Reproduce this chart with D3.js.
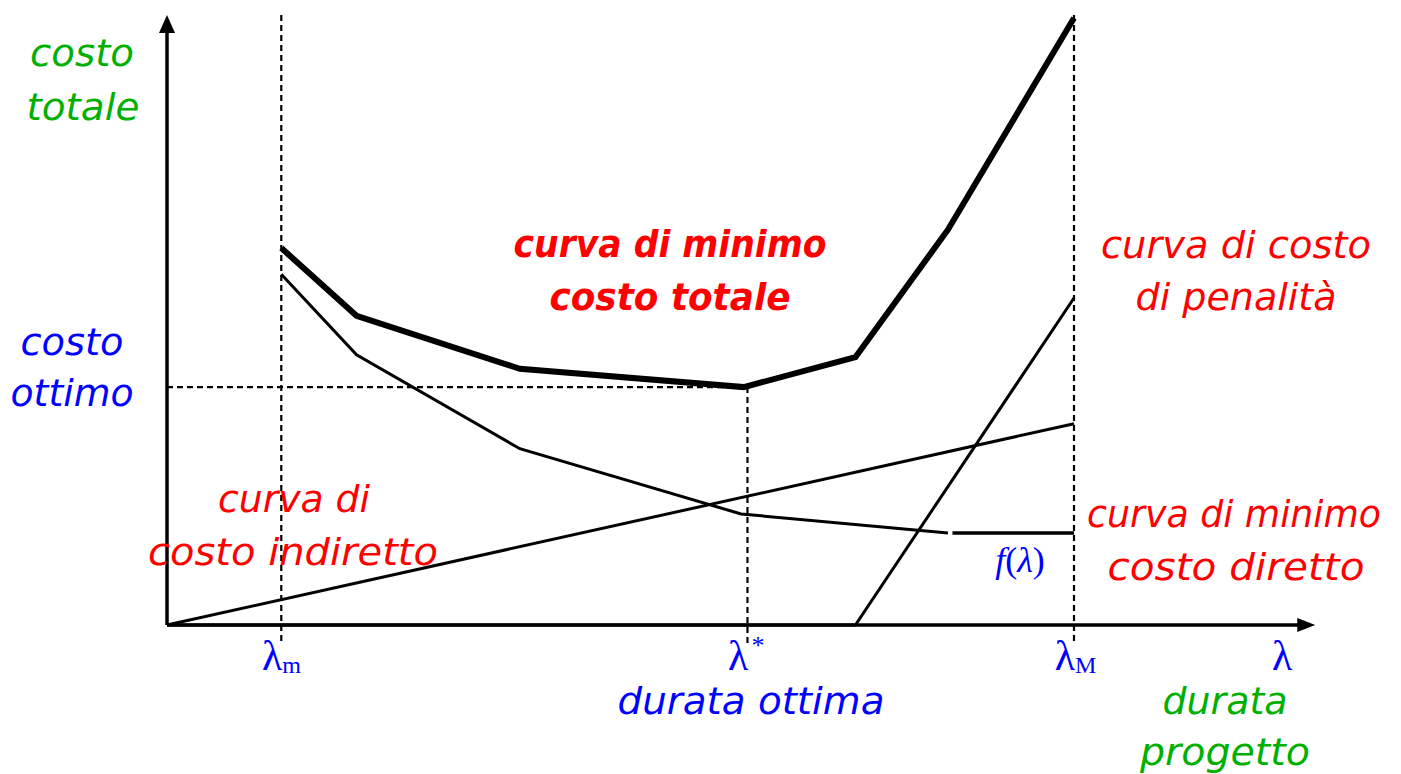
<!DOCTYPE html>
<html lang="it">
<head>
<meta charset="UTF-8">
<title>Costo totale</title>
<style>
    body { margin: 0; background: #fff; }
    svg { display: block; }
    .lbl { font-family: "DejaVu Sans", sans-serif; font-style: italic; }
    .sym { font-family: "Liberation Serif", "DejaVu Serif", serif; fill: #0000ff; }
</style>
</head>
<body>
<script src="https://d3js.org/d3.v7.min.js"></script>
<script>
    // durata (lambda) in unita arbitrarie, costo in unita arbitrarie
    const lambdaMin = 12.6, lambdaOpt = 64, lambdaMax = 100, xEnd = 126.6, yEnd = 100;

    const totalX = [12.6, 20.9, 38.9, 63.6, 75.9, 86.1, 100];
    const totalY = [61.8, 50.7, 42.0, 39.0, 43.9, 64.8, 99.5];

    const directX = [12.6, 20.9, 38.9, 63.3, 86.1];
    const directY = [57.5, 44.3, 28.9, 18.2, 15.1];
    const flatX = [86.6, 100];          // f(lambda)
    const flatY = [15.1, 15.1];

    const indirectX = [0, 100];
    const indirectY = [0, 33.0];

    const penaltyX = [0, 75.9, 100];
    const penaltyY = [0, 0, 53.6];

    const optCost = 39.0;

    const width = 1401, height = 774;

    const x = d3.scaleLinear().domain([0, 100]).range([167, 1074]);
    const y = d3.scaleLinear().domain([0, 100]).range([625, 15]);

    const svg = d3.select("body").append("svg")
        .attr("width", width)
        .attr("height", height);

    const line = d3.line().x(d => x(d[0])).y(d => y(d[1]));
    const zip = (a, b) => a.map((v, i) => [v, b[i]]);

    // dashed guides
    const dash = svg.append("g")
        .attr("stroke", "#000")
        .attr("stroke-width", 2.2)
        .attr("stroke-dasharray", "6,4")
        .attr("fill", "none");
    [lambdaMin, lambdaMax].forEach(v => {
        dash.append("line")
            .attr("x1", x(v)).attr("x2", x(v))
            .attr("y1", y(yEnd) ).attr("y2", y(0) + 18);
    });
    dash.append("line")
        .attr("x1", x(lambdaOpt)).attr("x2", x(lambdaOpt))
        .attr("y1", y(optCost)).attr("y2", y(0) + 18);
    dash.append("line")
        .attr("x1", x(0)).attr("x2", x(lambdaOpt))
        .attr("y1", y(optCost)).attr("y2", y(optCost));

    // curves
    const curves = svg.append("g").attr("fill", "none").attr("stroke", "#000")
        .attr("stroke-linejoin", "miter");
    curves.append("path").attr("d", line(zip(indirectX, indirectY))).attr("stroke-width", 3);
    curves.append("path").attr("d", line(zip(penaltyX, penaltyY))).attr("stroke-width", 3);
    curves.append("path").attr("d", line(zip(directX, directY))).attr("stroke-width", 3);
    curves.append("path").attr("d", line(zip(flatX, flatY))).attr("stroke-width", 3.5);
    curves.append("path").attr("d", line(zip(totalX, totalY))).attr("stroke-width", 6);

    // axes with arrows
    const axes = svg.append("g").attr("stroke", "#000").attr("stroke-width", 3.5);
    axes.append("line")
        .attr("x1", x(0)).attr("y1", y(0))
        .attr("x2", x(0)).attr("y2", y(yEnd) + 14);
    axes.append("line")
        .attr("x1", x(0)).attr("y1", y(0))
        .attr("x2", x(xEnd) - 14).attr("y2", y(0));
    svg.append("path")
        .attr("d", `M${x(0)},${y(yEnd)} l-8,18 l16,0 z`);
    svg.append("path")
        .attr("d", `M${x(xEnd)},${y(0)} l-18,-7 l0,14 z`);

    // lambda tick labels: right edge of the lambda sits on the tick
    const sym = svg.append("g").attr("class", "sym");
    function lam(xv, sub, sup) {
        const t = sym.append("text")
            .attr("y", 670)
            .attr("font-size", 42);
        t.append("tspan").text("\u03bb");
        if (sub) t.append("tspan").attr("dy", 3).attr("font-size", 24).text(sub);
        if (sup) t.append("tspan").attr("dx", 3).attr("dy", -16).attr("font-size", 26).text(sup);
        const lw = t.select("tspan").node().getComputedTextLength();
        t.attr("x", x(xv) - lw + 1);
    }
    lam(lambdaMin, "m");
    lam(lambdaOpt, null, "*");
    lam(lambdaMax, "M");
    sym.append("text").attr("x", x(xEnd) - 33).attr("y", 670)
        .attr("text-anchor", "middle").attr("font-size", 42).text("\u03bb");

    const f = sym.append("text").attr("x", 1020).attr("y", 572)
        .attr("text-anchor", "middle").attr("font-size", 36);
    f.append("tspan").attr("font-style", "italic").text("f");
    f.append("tspan").text("(");
    f.append("tspan").attr("font-style", "italic").text("\u03bb");
    f.append("tspan").text(")");

    // text labels: [text, center x, baseline y, width, colour, bold]
    const labels = [
        ["costo", 82, 66, 104, "#00b000", false],
        ["totale", 83, 120, 113, "#00b000", false],
        ["costo", 72, 355, 103, "#0000ff", false],
        ["ottimo", 72, 406, 123, "#0000ff", false],
        ["curva di minimo", 670, 257, 313, "#ff0000", true],
        ["costo totale", 670, 310, 241, "#ff0000", true],
        ["curva di costo", 1236, 258, 270, "#ff0000", false],
        ["di penalità", 1236, 310, 201, "#ff0000", false],
        ["curva di", 294, 512, 152, "#ff0000", false],
        ["costo indiretto", 293, 565, 290, "#ff0000", false],
        ["curva di minimo", 1234, 527, 294, "#ff0000", false],
        ["costo diretto", 1236, 580, 257, "#ff0000", false],
        ["durata ottima", 751, 714, 267, "#0000ff", false],
        ["durata", 1225, 714, 125, "#00b000", false],
        ["progetto", 1225, 765, 170, "#00b000", false]
    ];

    svg.append("g").attr("class", "lbl")
        .selectAll("text")
        .data(labels)
        .join("text")
        .attr("x", d => d[1] - d[3] / 2)
        .attr("y", d => d[2])
        .attr("textLength", d => d[3])
        .attr("lengthAdjust", "spacingAndGlyphs")
        .attr("font-size", 38)
        .attr("font-weight", d => d[5] ? "bold" : "normal")
        .attr("fill", d => d[4])
        .text(d => d[0]);
</script>
</body>
</html>
